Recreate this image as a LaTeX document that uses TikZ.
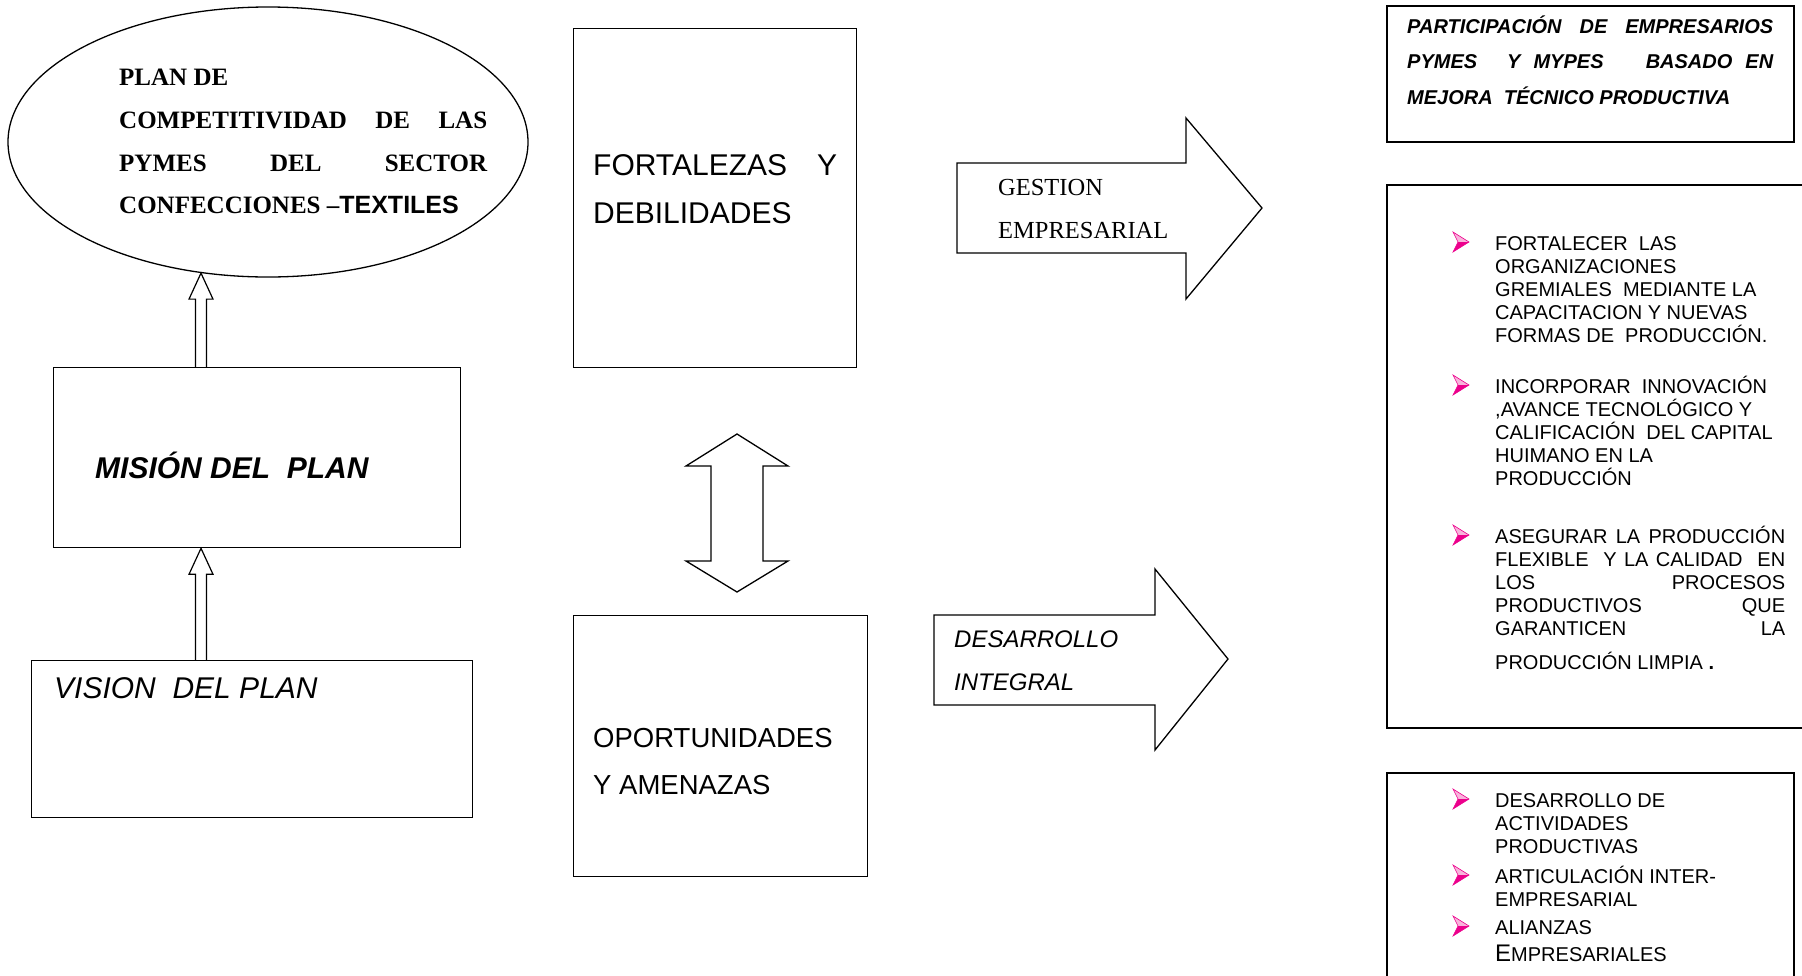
\documentclass[tikz,border=0pt]{standalone}
\usepackage{fontspec}
\setmainfont{Liberation Serif}
\setsansfont{Liberation Sans}
\usetikzlibrary{shapes.geometric, calc}

\tikzset{
  caja/.style={draw, line width=1.3pt, inner sep=0pt, anchor=north west},
  cajab/.style={caja, line width=2pt},
  txt/.style={inner sep=0pt, anchor=base west},
  lista/.style={txt, font=\fontsize{20}{20}\selectfont\sffamily},
  hueca/.style={line width=1.2pt, to path={
    let \p1=(\tikztostart), \p2=(\tikztotarget) in
    (\x1-5.5pt,\y1) -- (\x1-5.5pt,\y2-26pt) -- (\x1-12pt,\y2-26pt) -- (\x1,\y2)
    -- (\x1+12pt,\y2-26pt) -- (\x1+5.5pt,\y2-26pt) -- (\x1+5.5pt,\y1)}}
}

\begin{document}
\begin{tikzpicture}[x=1pt, y=-1pt]
\useasboundingbox (0,0) rectangle (1802,975);
\clip (0,0) rectangle (1802,975);

% plan (ellipse)
\node[draw, ellipse, line width=1.3pt, minimum width=520pt, minimum height=270pt, inner sep=0pt] (plan) at (268,142) {};
\node[txt, font=\fontsize{25}{25}\selectfont\bfseries] (p1) at (119,85) {PLAN DE};
\node[txt, font=\fontsize{25}{25}\selectfont\bfseries] (p2) at (119,128) {\makebox[368pt][s]{COMPETITIVIDAD DE LAS}};
\node[txt, font=\fontsize{25}{25}\selectfont\bfseries] (p3) at (119,171) {\makebox[368pt][s]{PYMES DEL SECTOR}};
\node[txt, font=\fontsize{25}{25}\selectfont\bfseries] (p4) at (119,213) {CONFECCIONES --{\sffamily TEXTILES}};

% mision y vision
\node[caja, minimum width=407pt, minimum height=180pt] (mision) at (53,367) {};
\node[txt, font=\fontsize{30}{30}\selectfont\sffamily\bfseries\itshape] (mt) at (95,478) {MISIÓN DEL\ \ PLAN};
\node[caja, minimum width=441pt, minimum height=157pt] (vision) at (31,660) {};
\node[txt, font=\fontsize{30}{30}\selectfont\sffamily\itshape] (vt) at (54,698) {VISION\ \ DEL PLAN};

\coordinate (eje) at (201,0);
\draw[hueca] (vision.north -| eje) to (mision.south -| eje);
\draw[hueca] (mision.north -| eje) to (plan.243);

% fortalezas / oportunidades
\node[caja, minimum width=283pt, minimum height=339pt] (fort) at (573,28) {};
\node[txt, font=\fontsize{30}{30}\selectfont\sffamily] (f1) at (593,175) {\makebox[244pt][s]{FORTALEZAS Y}};
\node[txt, font=\fontsize{30}{30}\selectfont\sffamily] (f2) at (593,223) {DEBILIDADES};

\node[caja, minimum width=294pt, minimum height=261pt] (opor) at (573,615) {};
\node[txt, font=\fontsize{27.5}{27.5}\selectfont\sffamily] (o1) at (593,747) {OPORTUNIDADES};
\node[txt, font=\fontsize{27.5}{27.5}\selectfont\sffamily] (o2) at (593,794) {Y AMENAZAS};

\draw[line width=1.3pt] (737,434) -- (788,466) -- (763,466) -- (763,561) -- (788,561) -- (737,592)
  -- (686,561) -- (711,561) -- (711,466) -- (686,466) -- cycle;

% flechas
\draw[line width=1.3pt] (957,163) -- (1186,163) -- (1186,118) -- (1262,208) -- (1186,299) -- (1186,253) -- (957,253) -- cycle;
\node[txt, font=\fontsize{24.5}{24.5}\selectfont] (g1) at (998,195) {GESTION};
\node[txt, font=\fontsize{24.5}{24.5}\selectfont] (g2) at (998,238) {EMPRESARIAL};

\draw[line width=1.3pt] (934,615) -- (1155,615) -- (1155,569) -- (1228,659) -- (1155,750) -- (1155,705) -- (934,705) -- cycle;
\node[txt, font=\fontsize{24}{24}\selectfont\sffamily\itshape] (d1) at (954,647) {DESARROLLO};
\node[txt, font=\fontsize{24}{24}\selectfont\sffamily\itshape] (d2) at (954,690) {INTEGRAL};

% cajas de la derecha
\node[cajab, minimum width=407pt, minimum height=136pt] (part) at (1386,5) {};
\node[txt, font=\fontsize{20}{20}\selectfont\sffamily\bfseries\itshape] (r1) at (1407,33) {\makebox[366pt][s]{PARTICIPACIÓN DE EMPRESARIOS}};
\node[txt, font=\fontsize{20}{20}\selectfont\sffamily\bfseries\itshape] (r2) at (1407,68) {\makebox[366pt]{PYMES\hspace{30pt}Y\hspace{13pt}MYPES\hfill BASADO\hspace{13pt}EN}};
\node[txt, font=\fontsize{20}{20}\selectfont\sffamily\bfseries\itshape] (r3) at (1407,104) {MEJORA\ \ TÉCNICO PRODUCTIVA};

\node[cajab, minimum width=430pt, minimum height=543pt] (metas) at (1386,184) {};
\node[cajab, minimum width=407pt, minimum height=230pt] (acts) at (1386,772) {};

\foreach \b in {250,393,543,807,883,934}{
  \fill[magenta!30] (1453,\b-18) -- (1469,\b-8) -- (1458,\b-8) -- cycle;
  \fill[magenta] (1453,\b+2) -- (1469,\b-8) -- (1458,\b-8) -- cycle;
  \draw[magenta, line width=.6pt] (1453,\b-18) -- (1469,\b-8) -- (1453,\b+2) -- (1458,\b-8) -- cycle;
}

\foreach \t [count=\i from 0] in {FORTALECER\ \ LAS, ORGANIZACIONES, GREMIALES\ \ MEDIANTE LA,
    CAPACITACION Y NUEVAS, FORMAS DE\ \ PRODUCCIÓN.}
  \node[lista] (a\i) at (1495,250+23*\i) {\t};
\foreach \t [count=\i from 0] in {INCORPORAR\ \ INNOVACIÓN, {,AVANCE TECNOLÓGICO Y},
    CALIFICACIÓN\ \ DEL CAPITAL, HUIMANO EN LA, PRODUCCIÓN}
  \node[lista] (b\i) at (1495,393+23*\i) {\t};
\foreach \t [count=\i from 0] in {ASEGURAR LA PRODUCCIÓN, FLEXIBLE\ \ Y LA CALIDAD\ \ EN,
    LOS PROCESOS, PRODUCTIVOS QUE, GARANTICEN LA}
  \node[lista] (c\i) at (1495,543+23*\i) {\makebox[290pt][s]{\t}};
\node[lista] (c5) at (1495,669) {PRODUCCIÓN LIMPIA {\bfseries .}};

\foreach \t [count=\i from 0] in {DESARROLLO DE, ACTIVIDADES, PRODUCTIVAS}
  \node[lista] (e\i) at (1495,807+23*\i) {\t};
\node[lista] (e3) at (1495,883) {ARTICULACIÓN INTER-};
\node[lista] (e4) at (1495,906) {EMPRESARIAL};
\node[lista] (e5) at (1495,934) {ALIANZAS};
\node[lista] (e6) at (1495,961) {{\fontsize{24}{24}\selectfont E}MPRESARIALES};
\end{tikzpicture}
\end{document}
